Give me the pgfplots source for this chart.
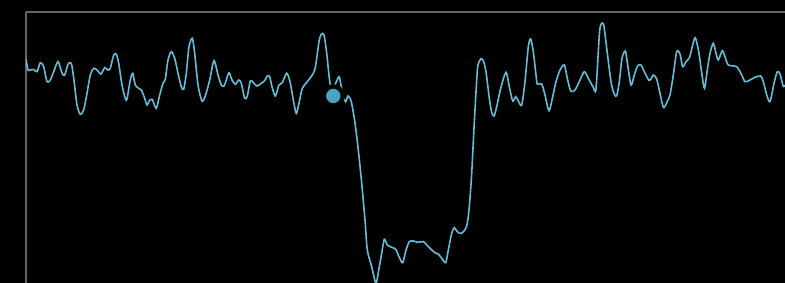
\documentclass[border=0pt]{standalone}
\usepackage{pgfplots}
\pgfplotsset{compat=1.18}
\definecolor{linec}{HTML}{62BDD6}
\definecolor{markc}{HTML}{4AA3C0}
\definecolor{framec}{HTML}{666666}
\begin{document}
\begin{tikzpicture}
\path[use as bounding box] (0,0) rectangle (785pt,283pt);
\fill[black] (0,0) rectangle (785pt,283pt);
\begin{axis}[
  at={(26pt,0pt)}, anchor=south west,
  scale only axis, width=759pt, height=271pt,
  xmin=26, xmax=785, ymin=12, ymax=283, y dir=reverse,
  axis x line*=top, axis y line*=left,
  axis line style={framec, line width=1.3pt},
  xtick=\empty, ytick=\empty,
  clip=true,
]
\addplot[linec, line width=1.6pt, smooth, tension=0.45, mark=none] coordinates {
(26,59) (28,70) (30,70) (33.7,69.5) (37,71.7) (40.3,62.7) (43.7,66.7) (47,81.7) (50.3,80) (53.7,71.7)
(58,61.7) (62,73) (64.7,75) (68,64.3) (71.3,63.3) (73.7,78) (77,105) (80.3,114.3) (83.7,110) (87,93.3)
(90.3,75) (93.7,68.3) (97,70) (101,74) (104.7,67.7) (108,70) (110.3,68.3) (113.7,55) (116.3,54.3) (118.7,63.3)
(122,85) (125.3,98.3) (127,99) (130.3,80) (132.7,73.3) (135.3,85) (138.7,88.3) (141.3,90) (144.7,98.3) (147,105)
(149.7,100) (152,99.3) (153,101) (156.3,108.3) (159.7,95) (163,83.3) (165.3,79.3) (168,60) (171.3,51.7) (174.7,58.3)
(178,73.3) (181.3,86.7) (183.7,89.3) (186.3,73.3) (189,46.7) (192.3,38.3) (194.7,53.3) (198,85) (202,101) (205.3,96)
(209.7,80) (214,60.7) (218,75) (221.3,85) (224,86) (226.3,80) (229,72.7) (232,80) (235.3,84.3) (238.7,80)
(241.3,83.3) (244.7,98.3) (247.3,96) (250.3,81) (253,82.3) (257,86) (261.3,83.3) (264.7,80.7) (267.3,76) (269.7,76.7)
(272,86.7) (275.3,96) (279,85) (282.3,82.7) (286.7,73.3) (290,81.7) (293.3,100) (296.3,113.3) (299,103.3) (302.3,88.3)
(307.3,81.7) (314.7,70) (319,41.7) (321.3,34.3) (324,35) (326.7,53.3) (330,83.3) (333,88) (335.7,83.3) (339,76.7)
(341,85) (343,95) (345.7,101.7) (348,96) (351.3,101.7) (355,123) (358.3,150) (361.7,183.3) (365,220) (367.3,250)
(371.7,266.7) (376,283) (379.3,266.7) (381.7,253.3) (384.3,239.3) (387.3,245) (391.7,247.3) (395.7,249.3) (399,256.7) (402.7,262.7)
(406,250) (409.3,241.7) (413.3,241) (417.3,242.3) (423.3,241.7) (426.7,245) (430,248.3) (435,252.7) (438.3,254) (441.7,258.3)
(445.7,262.7) (448.3,250) (451.7,233.3) (454.3,227.7) (457.3,231.7) (461.7,233.3) (466.7,226) (469.3,206.7) (471.7,173.3) (474,128)
(476.7,80) (478,65) (480.7,59) (483.3,60.7) (486,71.7) (489.3,98.3) (491.7,112.3) (494,116) (496.7,106.7) (500.7,88.3)
(506,72.3) (509.3,86.7) (512.7,101) (515.7,96.7) (518.3,101) (521.7,105) (525,81.7) (528.3,46.7) (530.7,39) (533.3,51.7)
(536,75) (537.3,84) (541.7,84) (545,95) (549,110.7) (552.7,96.7) (556,81.7) (560,70) (564.3,65) (567.3,78.3)
(570.7,91) (575,90) (580,80) (584.3,71.7) (588.3,78.3) (593.3,87.3) (596,89) (599.3,35) (601,24.3) (603.7,25)
(606.7,48.3) (611,81.7) (614.3,94.3) (616.7,95.7) (619.3,81.7) (622,58.3) (625.3,51) (627.7,65) (631,85) (634.3,75)
(637.7,65.7) (641,65) (644.3,71.7) (648.7,80) (651,79) (653.3,75) (656.7,79) (660,93.3) (663.5,107.5) (667,102)
(670,95) (673.3,75) (676.7,51.7) (680,54) (682.7,66.7) (686,61.7) (689.5,57.5) (692.7,45) (695.3,37.7) (698.7,51.7)
(702,75) (704.5,88.3) (707.3,70) (710,53.3) (713.3,43.3) (716,53.3) (718.3,60) (722.3,50.7) (725,56.7) (728.3,65)
(736.7,66.7) (741.7,75) (745,81.7) (750,80) (755,77.3) (760.7,76) (763.3,81.7) (766.7,95) (770,101.7) (774,83.3)
(777.3,71.7) (780,74) (783.3,86.5) (785,85)
};
\addplot[only marks, mark=*, mark size=11.5pt, mark options={fill=black, draw=none}] coordinates {(333.3,96)};
\addplot[only marks, mark=*, mark size=7.5pt, mark options={fill=markc, draw=none}] coordinates {(333.3,96)};
\end{axis}
\end{tikzpicture}
\end{document}
